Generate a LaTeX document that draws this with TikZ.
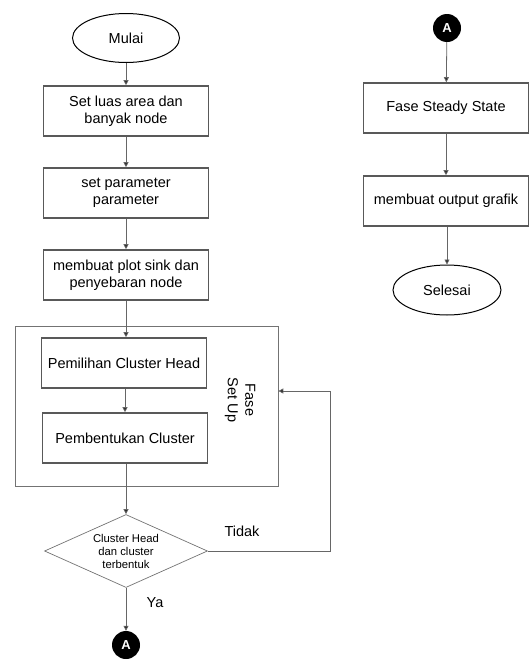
\documentclass[tikz,border=0pt]{standalone}
\usepackage{fontspec}
\setmainfont{Liberation Sans}
\usetikzlibrary{shapes.geometric,arrows.meta}
\tikzset{
  box/.style={draw=black!65,line width=1.6pt,minimum width=165pt,minimum height=50pt,
    inner sep=0pt,align=center,font=\fontsize{14.5}{17.5}\selectfont},
  terminal/.style={draw=black,line width=1pt,ellipse,minimum width=107pt,minimum height=49pt,
    inner sep=0pt,font=\fontsize{14.5}{17.5}\selectfont},
  decision/.style={draw=black!55,line width=0.7pt,diamond,aspect=2.23,minimum width=163pt,
    minimum height=73pt,inner sep=0pt,align=center,font=\fontsize{11.3}{13}\selectfont},
  connector/.style={circle,fill=black,text=white,minimum size=28pt,inner sep=0pt,
    font=\fontsize{13}{13}\selectfont\bfseries},
  lbl/.style={font=\fontsize{14.5}{17.5}\selectfont},
  flow/.style={draw=black!60,line width=0.8pt,-{Triangle[length=5pt,width=5pt,fill=black!85]}}
}
\begin{document}
\begin{tikzpicture}[x=1pt,y=-1pt]
  \useasboundingbox (0,0) rectangle (529,664);
  \node[terminal] (mulai) at (126,38) {Mulai};
  \node[box] (luas) at (126,111) {Set luas area dan\\banyak node};
  \node[box] (param) at (126,193) {set parameter\\parameter};
  \node[box] (plot) at (126,275) {membuat plot sink dan\\penyebaran node};
  \node[draw=black!55,line width=0.7pt,minimum width=263pt,minimum height=160pt,inner sep=0pt]
    (setup) at (146.5,406) {};
  \node[box] (pilih) at (124,363) {Pemilihan Cluster Head};
  \node[box] (bentuk) at (125,438) {Pembentukan Cluster};
  \node[lbl,rotate=-90,align=center] (fase) at (240,400) {Fase\\Set Up};
  \node[decision] (cek) at (126,551) {Cluster Head\\dan cluster\\terbentuk};
  \node[lbl] (tidak) at (242,531) {Tidak};
  \node[lbl] (ya) at (155,603) {Ya};
  \node[connector] (a1) at (126,645) {A};
  \coordinate (balik) at (330,391);

  \node[connector] (a2) at (447,28) {A};
  \node[box] (steady) at (446,108) {Fase Steady State};
  \node[box] (grafik) at (446,201) {membuat output grafik};
  \node[terminal,minimum width=108pt,minimum height=50pt] (selesai) at (447,290) {Selesai};

  \begin{scope}[flow]
    \draw (mulai) to (luas);
    \draw (luas) to (param);
    \draw (param) to (plot);
    \draw (plot.south) to (plot.south |- pilih.north);
    \draw (pilih.south -| bentuk) to (bentuk);
    \draw (bentuk.south -| cek) to (cek);
    \draw (cek) to (a1);
    \draw (cek.east) -| (balik) -- (setup.east |- balik);
    \draw (a2) to (steady);
    \draw (steady) to (grafik);
    \draw (grafik.south -| selesai) to (selesai);
  \end{scope}
\end{tikzpicture}
\end{document}
